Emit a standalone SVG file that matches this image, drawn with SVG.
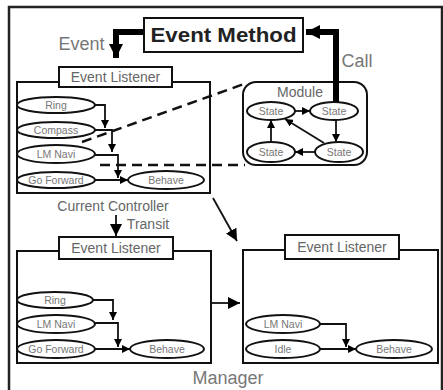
<svg xmlns="http://www.w3.org/2000/svg" width="443" height="390" viewBox="0 0 443 390">
<defs>
<style>
.box{fill:#fff;stroke:#111;stroke-width:2}
.el{fill:#fff;stroke:#111;stroke-width:2}
.ln{fill:none;stroke:#111;stroke-width:1.8}
.thick{fill:none;stroke:#000;stroke-width:6}
.dash{fill:none;stroke:#111;stroke-width:2.5;stroke-dasharray:10,6}
.t{font-family:"Liberation Sans","Noto Sans CJK JP",sans-serif;fill:#666;text-anchor:middle}
.s{font-size:10.5px;fill:#777}
.m{font-size:14px}
.l{font-size:18px;fill:#777}
</style>
<marker id="ah" viewBox="0 0 10 10" refX="10" refY="5" markerWidth="8" markerHeight="8" markerUnits="userSpaceOnUse" orient="auto"><path d="M0,0 L10,5 L0,10 z" fill="#000"/></marker>
<marker id="ahb" viewBox="0 0 10 10" refX="10" refY="5" markerWidth="12" markerHeight="12" markerUnits="userSpaceOnUse" orient="auto"><path d="M0,0 L10,5 L0,10 z" fill="#000"/></marker>
<marker id="ahk" viewBox="0 0 10 10" refX="10" refY="5" markerWidth="14" markerHeight="14" markerUnits="userSpaceOnUse" orient="auto"><path d="M0,0 L10,5 L0,10 z" fill="#000"/></marker>
</defs>
<rect width="443" height="390" fill="#fff"/>
<g id="manager">
<path d="M9,395 V7 H442 V395" fill="none" stroke="#222" stroke-width="2.5"/>
<text class="t l" x="228" y="384" font-size="17">Manager</text>
</g>
<g id="event-method">
<rect class="box" x="144" y="18" width="159" height="34"/>
<text x="223.5" y="42" font-family="Liberation Sans,sans-serif" font-weight="bold" font-size="21" fill="#222" text-anchor="middle" textLength="146" lengthAdjust="spacingAndGlyphs">Event Method</text>
</g>
<text class="t l" x="81.5" y="50">Event</text>
<text class="t l" x="357" y="67">Call</text>
<g id="current-controller">
<rect class="box" x="17" y="82" width="193" height="111"/>
<rect class="box" x="59" y="67" width="113" height="20"/>
<text class="t m" x="115.5" y="82">Event Listener</text>
<path class="ln" d="M95,105 H105 V128" marker-end="url(#ah)"/>
<path class="ln" d="M95,130 H112 V152" marker-end="url(#ah)"/>
<path class="ln" d="M95,155 H118 V178" marker-end="url(#ah)"/>
<path class="ln" d="M95,180 H128" marker-end="url(#ah)"/>
<ellipse class="el" cx="56" cy="105" rx="39" ry="8"/><text class="t s" x="56" y="109">Ring</text>
<ellipse class="el" cx="56" cy="130" rx="39" ry="8"/><text class="t s" x="56" y="134">Compass</text>
<ellipse class="el" cx="56" cy="154" rx="39" ry="9"/><text class="t s" x="56" y="158">LM Navi</text>
<ellipse class="el" cx="56" cy="180" rx="39" ry="8"/><text class="t s" x="56" y="184">Go Forward</text>
<ellipse class="el" cx="166" cy="180" rx="38" ry="9"/><text class="t s" x="166" y="184">Behave</text>
<text class="t m" x="113" y="211">Current Controller</text>
<text class="t m" x="148" y="229" font-size="13">Transit</text>
</g>
<g id="module">
<rect class="box" x="243" y="82" width="124" height="83" rx="13"/>
<text class="t m" x="300" y="97" font-size="12.5">Module</text>
<path class="ln" d="M295,111 H310" marker-end="url(#ah)"/>
<path class="ln" d="M336,120 V142" marker-end="url(#ah)"/>
<path class="ln" d="M315,152 H295" marker-end="url(#ah)"/>
<path class="ln" d="M271,142 V120" marker-end="url(#ah)"/>
<path class="ln" d="M324,143 L285,119" marker-end="url(#ah)"/>
<ellipse class="el" cx="271" cy="111" rx="24" ry="9"/><text class="t s" x="271" y="115">State</text>
<ellipse class="el" cx="334" cy="111" rx="24" ry="9"/><text class="t s" x="334" y="115">State</text>
<ellipse class="el" cx="271" cy="152" rx="24" ry="10"/><text class="t s" x="271" y="156">State</text>
<ellipse class="el" cx="339" cy="152" rx="24" ry="10"/><text class="t s" x="339" y="156">State</text>
</g>
<g id="listener-bottom-left">
<rect class="box" x="17" y="251" width="194" height="112"/>
<rect class="box" x="59" y="237" width="114" height="22"/>
<text class="t m" x="116" y="253">Event Listener</text>
<path class="ln" d="M93,300 H113 V320" marker-end="url(#ah)"/>
<path class="ln" d="M95,323 H118 V347" marker-end="url(#ah)"/>
<path class="ln" d="M95,349 H130" marker-end="url(#ah)"/>
<ellipse class="el" cx="55" cy="300" rx="38" ry="8"/><text class="t s" x="55" y="304">Ring</text>
<ellipse class="el" cx="56" cy="324" rx="39" ry="9"/><text class="t s" x="56" y="328">LM Navi</text>
<ellipse class="el" cx="56" cy="349" rx="39" ry="9"/><text class="t s" x="56" y="353">Go Forward</text>
<ellipse class="el" cx="167" cy="349" rx="37" ry="9"/><text class="t s" x="167" y="353">Behave</text>
</g>
<g id="listener-bottom-right">
<rect class="box" x="243" y="250" width="195" height="113"/>
<rect class="box" x="285" y="235" width="114" height="24"/>
<text class="t m" x="342" y="252">Event Listener</text>
<path class="ln" d="M320,324 H346 V347" marker-end="url(#ah)"/>
<path class="ln" d="M320,349 H356" marker-end="url(#ah)"/>
<ellipse class="el" cx="283" cy="324" rx="37" ry="9"/><text class="t s" x="283" y="328">LM Navi</text>
<ellipse class="el" cx="283" cy="349" rx="37" ry="9"/><text class="t s" x="283" y="353">Idle</text>
<ellipse class="el" cx="394" cy="349" rx="38" ry="9"/><text class="t s" x="394" y="353">Behave</text>
</g>
<g id="connectors">
<path class="thick" d="M143,32 H116 V58" marker-end="url(#ahk)"/>
<path class="thick" d="M336,102 V32 H306" marker-end="url(#ahk)"/>
<path class="dash" d="M82,142 L244,84"/>
<path class="dash" d="M100,165 H245"/>
<path class="ln" d="M213,198 L237,241" marker-end="url(#ahb)"/>
<path class="ln" d="M116,215 V236" marker-end="url(#ahb)"/>
<path class="ln" d="M211,303 H240" marker-end="url(#ahb)"/>
</g>
</svg>
